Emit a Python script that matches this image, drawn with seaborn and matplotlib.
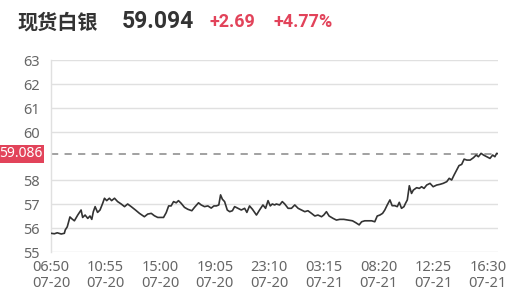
import matplotlib
matplotlib.use("Agg")
import matplotlib.pyplot as plt
import matplotlib.transforms as mtransforms
import seaborn as sns
import pandas as pd

# ---- data ----
minutes = [0, 15, 28, 46, 60, 64, 73, 85, 94, 105, 120, 135, 142, 153, 165, 175, 183, 190, 198, 209,
           220, 232, 240, 250, 262, 272, 285, 299, 315, 330, 344, 360, 379, 397, 419, 434, 450, 464, 479, 487,
           505, 517, 528, 539, 550, 562, 572, 584, 599, 614, 632, 644, 662, 674, 689, 704, 719, 731, 742, 753,
           761, 769, 779, 791, 802, 814, 824, 839, 854, 869, 879, 891, 904, 922, 936, 951, 963, 974, 984, 993,
           1004, 1011, 1026, 1038, 1049, 1064, 1079, 1094, 1109, 1124, 1139, 1153, 1169, 1184, 1198, 1214, 1224, 1236, 1248, 1266,
           1281, 1296, 1314, 1333, 1353, 1368, 1383, 1394, 1408, 1423, 1439, 1453, 1464, 1476, 1488, 1498, 1509, 1521, 1531, 1543,
           1554, 1563, 1573, 1584, 1591, 1599, 1608, 1618, 1626, 1641, 1653, 1663, 1674, 1686, 1701, 1715, 1731, 1746, 1760, 1776,
           1787, 1798, 1809, 1821, 1831, 1843, 1854, 1866, 1881, 1896, 1908, 1918, 1930, 1941, 1956, 1970, 1982, 1992, 2000, 2006]
prices = [55.78, 55.76, 55.80, 55.75, 55.78, 55.92, 56.05, 56.46, 56.38, 56.30, 56.54, 56.75, 56.44, 56.54, 56.40, 56.50, 56.36, 56.68, 56.89, 56.65,
          56.75, 57.03, 57.24, 57.14, 57.24, 57.14, 57.24, 57.10, 57.00, 56.89, 57.00, 56.89, 56.75, 56.61, 56.47, 56.58, 56.61, 56.51, 56.44, 56.44,
          56.44, 56.64, 56.92, 56.92, 57.10, 57.05, 57.14, 57.03, 56.86, 56.78, 56.72, 56.86, 57.05, 56.96, 56.89, 56.92, 56.83, 56.92, 56.92, 56.96,
          57.38, 57.20, 57.10, 56.75, 56.68, 56.72, 56.89, 56.82, 56.75, 56.82, 56.65, 56.92, 56.78, 56.54, 56.75, 56.96, 56.82, 57.14, 56.92, 57.00,
          56.96, 57.00, 56.96, 57.10, 57.00, 56.82, 56.82, 56.96, 56.82, 56.75, 56.68, 56.72, 56.61, 56.50, 56.54, 56.47, 56.54, 56.68, 56.50, 56.40,
          56.33, 56.36, 56.36, 56.33, 56.30, 56.22, 56.13, 56.26, 56.30, 56.30, 56.30, 56.26, 56.50, 56.54, 56.61, 56.75, 56.96, 57.17, 56.93, 56.93,
          56.89, 57.07, 56.82, 56.89, 57.03, 57.17, 57.76, 57.44, 57.58, 57.68, 57.65, 57.72, 57.65, 57.79, 57.86, 57.72, 57.79, 57.82, 57.86, 57.93,
          58.07, 58.00, 58.21, 58.42, 58.60, 58.65, 58.87, 58.83, 58.83, 58.93, 59.04, 58.97, 59.11, 59.04, 58.97, 58.90, 59.04, 58.97, 59.11, 59.094]
tick_minutes = [0, 245, 490, 735, 980, 1225, 1470, 1715, 1960]
tick_labels = ["06:50\n07-20", "10:55\n07-20", "15:00\n07-20", "19:05\n07-20", "23:10\n07-20",
               "03:15\n07-21", "08:20\n07-21", "12:25\n07-21", "16:30\n07-21"]
y_ticks = [55, 56, 57, 58, 60, 61, 62, 63]
ref_price = 59.086
title_name = "现货白银"
last_price = "59.094"
change = "+2.69"
change_pct = "+4.77%"

RED = "#e2435a"
GRAY = "#666666"

sns.set_style("white")
plt.rcParams['font.family'] = ['Noto Sans', 'DejaVu Sans']

fig = plt.figure(figsize=(5.14, 2.96), dpi=100)
W, H = 514, 296
ax = fig.add_axes([51 / W, 1 - 252 / H, (498 - 51) / W, (252 - 60) / H])

df = pd.DataFrame({"t": minutes, "p": prices})
sns.lineplot(data=df, x="t", y="p", ax=ax, color="#333333", linewidth=1.2, zorder=3)

ax.axhline(ref_price, color="#9a9a9a", linestyle=(0, (4, 3.5)), linewidth=1.3, zorder=2)

ax.set_xlim(0, 2006)
ax.set_ylim(55, 63)
ax.set_yticks(y_ticks)
ax.set_yticklabels([str(v) for v in y_ticks])
ax.set_xticks(tick_minutes)
ax.set_xticklabels(tick_labels, linespacing=1.1)
ax.set_xlabel("")
ax.set_ylabel("")
ax.grid(axis="y", color="#e0e0e0", linewidth=1.0)
ax.grid(axis="x", visible=False)
for s in ["top", "right", "bottom"]:
    ax.spines[s].set_visible(False)
ax.spines["left"].set_color("#e0e0e0")
ax.spines["left"].set_linewidth(1.0)
ax.tick_params(axis="y", length=0, pad=8, labelsize=10.5, labelcolor=GRAY)
ax.tick_params(axis="x", length=0, pad=6, labelsize=10.5, labelcolor=GRAY)

# red current-price label
trans = mtransforms.blended_transform_factory(fig.transFigure, ax.transData)
ax.text(43 / W, ref_price, f"{ref_price:.3f}", transform=trans, ha="right", va="center",
        color="white", fontsize=10,
        bbox=dict(boxstyle="square,pad=0.1", facecolor=RED, edgecolor="none"), clip_on=False)

# header
ycen = 1 - 22 / H
fig.text(18 / W, ycen, title_name, fontsize=14.5, fontweight="bold", color="#333333",
         family=["Noto Sans CJK SC"], va="center", ha="left")
fig.text(122 / W, ycen, last_price, fontsize=16.5, fontweight="bold", color="#333333",
         family=["Roboto"], va="center", ha="left")
fig.text(209 / W, ycen, change, fontsize=13, fontweight="bold", color=RED,
         family=["Roboto"], va="center", ha="left")
fig.text(273 / W, ycen, change_pct, fontsize=13, fontweight="bold", color=RED,
         family=["Roboto"], va="center", ha="left")

fig.savefig("out.png", dpi=100)
